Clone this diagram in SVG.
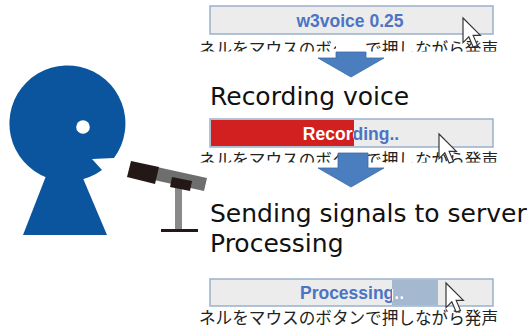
<svg xmlns="http://www.w3.org/2000/svg" width="530" height="330" viewBox="0 0 530 330">
  <style>
    .btn { fill: #ececec; stroke: #9ab0cc; stroke-width: 1.5; }
    .btxt { font-family: "Liberation Sans", Arial, sans-serif; font-weight: bold; font-size: 17.5px; text-anchor: middle; fill: #4b74c4; }
    .btxt.w { fill: #ffffff; }
    .jp { font-family: "Noto Sans CJK JP", "Noto Sans", sans-serif; font-size: 17px; fill: #222222; }
    .step { font-family: "DejaVu Sans", Verdana, sans-serif; font-size: 25px; fill: #111111; }
    .arrow { fill: #4a7ebf; stroke: #3d6ba6; stroke-width: 0.8; }
    .cursor { fill: #ffffff; stroke: #333333; stroke-width: 0.8; stroke-linejoin: miter; }
  </style>
  <defs>
    <symbol id="cursor" overflow="visible">
      <path class="cursor" d="M0,0 L0,17 L4,13 L7,20 L10,19 L7,12 L12,12 Z" transform="scale(1.45)"/>
    </symbol>
    <clipPath id="jp1"><rect x="200" y="36" width="300" height="15.5"/></clipPath>
    <clipPath id="jp2"><rect x="200" y="147" width="300" height="15.5"/></clipPath>
    <clipPath id="redpart"><rect x="211" y="119" width="143" height="28"/></clipPath>
    <clipPath id="greypart"><rect x="354" y="119" width="140" height="28"/></clipPath>
    <clipPath id="fillpart"><rect x="392" y="279" width="46" height="27"/></clipPath>
  </defs>

  <rect width="530" height="330" fill="#ffffff"/>

  <!-- speaker -->
  <g id="person" fill="#0a559d">
    <path d="M114,158 L92,159 L102,170 A58,58 0 1 1 114,158 Z"/>
    <polygon points="46,176 82,176 107,235 23,235"/>
    <circle cx="83" cy="127" r="6.8" fill="#ffffff"/>
  </g>

  <!-- microphone on stand -->
  <g id="microphone">
    <rect x="175" y="186" width="7" height="44" fill="#8a8a8a"/>
    <rect x="161" y="229" width="37" height="3" fill="#231815"/>
    <polygon points="157,167 207,178 204,191 154,180" fill="#6e6e6e"/>
    <polygon points="131,161 159,167 155,184 127,177" fill="#231815"/>
    <polygon points="172,177 192,181 190,191 170,187" fill="#231815"/>
  </g>

  <!-- idle button -->
  <g id="button-idle">
    <rect class="btn" x="210" y="6" width="283" height="28"/>
    <text class="btxt" x="350" y="27">w3voice 0.25</text>
    <text class="jp" x="199" y="55" textLength="299" lengthAdjust="spacingAndGlyphs" clip-path="url(#jp1)">ネルをマウスのボタンで押しながら発声</text>
    <use href="#cursor" x="463" y="18"/>
  </g>

  <!-- recording button -->
  <g id="button-recording">
    <rect class="btn" x="210" y="119" width="283" height="28"/>
    <rect x="211" y="120" width="143" height="26" fill="#d21f1f"/>
    <text class="btxt" x="351" y="140" clip-path="url(#greypart)">Recording..</text>
    <text class="btxt w" x="351" y="140" clip-path="url(#redpart)">Recording..</text>
    <text class="jp" x="199" y="166" textLength="299" lengthAdjust="spacingAndGlyphs" clip-path="url(#jp2)">ネルをマウスのボタンで押しながら発声</text>
    <use href="#cursor" x="439" y="134"/>
  </g>

  <!-- processing button -->
  <g id="button-processing">
    <rect class="btn" x="210" y="279" width="283" height="27"/>
    <rect x="392" y="280" width="46" height="25" fill="#a4b8d0"/>
    <text class="btxt" x="352" y="299">Processing..</text>
    <text class="btxt w" x="352" y="299" clip-path="url(#fillpart)">Processing..</text>
    <text class="jp" x="199" y="324" textLength="299" lengthAdjust="spacingAndGlyphs">ネルをマウスのボタンで押しながら発声</text>
    <use href="#cursor" x="446" y="283"/>
  </g>

  <!-- step captions -->
  <g id="caption-recording">
    <text class="step" x="210" y="105">Recording voice</text>
  </g>
  <g id="caption-sending">
    <text class="step" x="210" y="222">Sending signals to server</text>
    <text class="step" x="210" y="252">Processing</text>
  </g>

  <!-- flow arrows -->
  <g id="connectors">
    <rect x="336" y="38" width="30" height="14" fill="#ffffff"/>
    <polygon class="arrow" points="336,52 366,52 366,58 384,58 351,77 318,58 336,58"/>
    <rect x="338" y="149" width="30" height="14" fill="#ffffff"/>
    <polygon class="arrow" points="338,153 368,153 368,168 384,168 351,187 318,168 338,168"/>
  </g>
</svg>
